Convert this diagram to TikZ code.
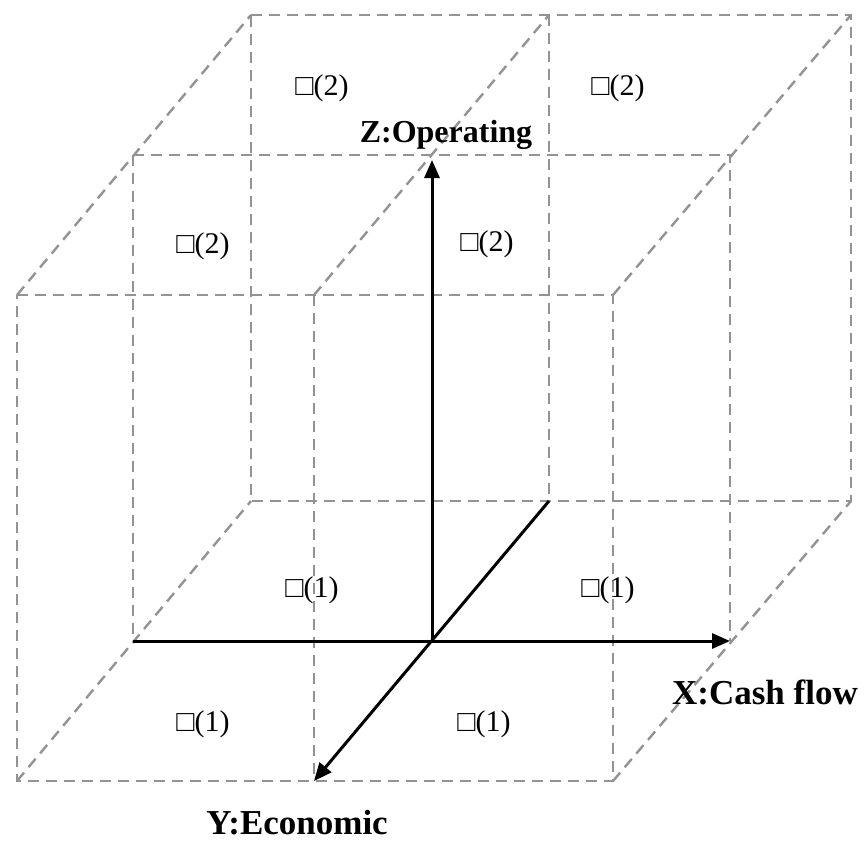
\documentclass[tikz,border=0pt]{standalone}
\usepackage{fontspec}
\setmainfont{Liberation Serif}
\usetikzlibrary{arrows.meta}
\begin{document}
\begin{tikzpicture}[x=1pt,y=-1pt,
  gridline/.style={draw=gray!85,line width=2.4pt,dash pattern=on 11pt off 7pt},
  axisline/.style={draw=black,line width=3pt,-{Triangle[length=18pt,width=15pt]}},
  celllabel/.style={font=\fontsize{30}{32}\selectfont,inner sep=0pt},
  axislabel/.style={font=\fontsize{35}{37}\selectfont\bfseries,inner sep=0pt}]
\useasboundingbox (0,0) rectangle (867,843);
% corners: front (F), middle (M), back (B)
\coordinate (F1) at (17,295);  \coordinate (F2) at (314,295); \coordinate (F3) at (613,295);
\coordinate (F4) at (17,781);  \coordinate (F5) at (314,781); \coordinate (F6) at (613,781);
\coordinate (M1) at (133,155); \coordinate (M3) at (730,155);
\coordinate (M4) at (133,641); \coordinate (M5) at (432,641); \coordinate (M6) at (730,641);
\coordinate (B1) at (251,15);  \coordinate (B2) at (549,15);  \coordinate (B3) at (851,15);
\coordinate (B4) at (251,501); \coordinate (B5) at (549,501); \coordinate (B6) at (851,501);
\coordinate (Ztop) at (432,160);
% front face
\draw[gridline] (F1) -- (F3) -- (F6) -- (F4) -- cycle;
\draw[gridline] (F2) -- (F5);
% middle plane
\draw[gridline] (M1) -- (M3) -- (M6);
\draw[gridline] (M1) -- (M4);
% back face
\draw[gridline] (B1) -- (B3) -- (B6) -- (B4) -- cycle;
\draw[gridline] (B2) -- (B5);
% depth lines
\draw[gridline] (F1) -- (B1);
\draw[gridline] (F2) -- (B2);
\draw[gridline] (F3) -- (B3);
\draw[gridline] (F4) -- (B4);
\draw[gridline] (F6) -- (B6);
% axes
\draw[axisline] (M4) -- (M6);
\draw[axisline] (M5) -- (Ztop);
\draw[axisline] (B5) -- (F5);
% labels
\node[axislabel,font=\fontsize{32}{34}\selectfont\bfseries] (zl) at (446,135) {Z:Operating};
\node[axislabel] (xl) at (765,692) {X:Cash flow};
\node[axislabel] (yl) at (297,823) {Y:Economic};
\node[celllabel] (c1) at (322,88) {□(2)};
\node[celllabel] (c2) at (618,88) {□(2)};
\node[celllabel] (c3) at (203,246) {□(2)};
\node[celllabel] (c4) at (487,244) {□(2)};
\node[celllabel] (c5) at (312,590) {□(1)};
\node[celllabel] (c6) at (608,590) {□(1)};
\node[celllabel] (c7) at (203,724) {□(1)};
\node[celllabel] (c8) at (484,724) {□(1)};
\end{tikzpicture}
\end{document}
